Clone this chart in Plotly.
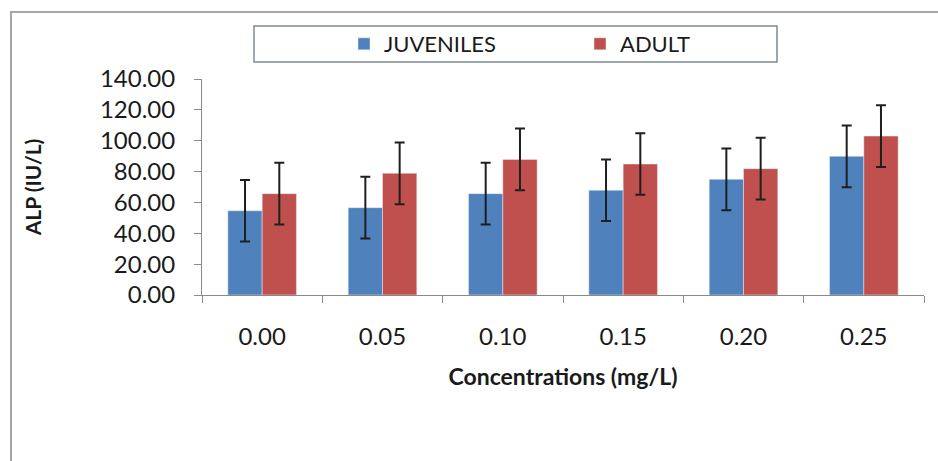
import plotly.graph_objects as go

categories = ["0.00", "0.05", "0.10", "0.15", "0.20", "0.25"]
juveniles = [54.6, 56.6, 65.7, 67.9, 75.0, 89.9]
adult = [65.7, 78.9, 87.9, 84.9, 81.9, 103.0]
juv_err = [20, 20, 20, 20, 20, 20]
adult_err = [20, 20, 20, 20, 20, 20]
y_ticks = [0, 20, 40, 60, 80, 100, 120, 140]
y_tick_labels = [f"{v:.2f}" for v in y_ticks]

W, H = 938, 461
L, R, T, B = 202, 14, 79, 166
pw, ph = W - L - R, H - T - B

def px(x):
    return (x - L) / pw

def py(y):
    return (H - B - y) / ph

FONT = "Lato"
err_style = dict(type="data", symmetric=True, color="#1f1f1f", thickness=2, width=5)

fig = go.Figure()
fig.add_trace(go.Bar(name="JUVENILES", x=categories, y=juveniles, marker_color="#4F81BD",
                     error_y=dict(array=juv_err, **err_style)))
fig.add_trace(go.Bar(name="ADULT", x=categories, y=adult, marker_color="#C0504D",
                     error_y=dict(array=adult_err, **err_style)))

fig.update_layout(
    width=W, height=H,
    margin=dict(l=L, r=R, t=T, b=B, pad=0),
    paper_bgcolor="white", plot_bgcolor="white",
    barmode="group", bargap=0.43, bargroupgap=0,
    font=dict(family=FONT, color="#1a1a1a"),
    showlegend=True,
    legend=dict(orientation="h", x=px(344), xanchor="left", y=py(44), yanchor="middle",
                entrywidth=191, entrywidthmode="pixels",
                font=dict(size=22, family=FONT, color="#1a1a1a"),
                bgcolor="rgba(0,0,0,0)", traceorder="normal"),
    xaxis=dict(showline=True, linecolor="#8a8a8a", linewidth=1, ticks="outside",
               ticklen=7, tickcolor="#8a8a8a", tickson="boundaries",
               ticklabelstandoff=20,
               tickfont=dict(size=24, family=FONT, color="#1a1a1a"),
               title=dict(text="<b>Concentrations (mg/L)</b>", font=dict(size=23, family=FONT), standoff=20),
               showgrid=False, zeroline=False),
    yaxis=dict(range=[0, 140], tickvals=y_ticks, ticktext=y_tick_labels,
               showline=True, linecolor="#8a8a8a", linewidth=1, ticks="outside",
               ticklen=7, tickcolor="#8a8a8a", ticklabelstandoff=14,
               tickfont=dict(size=24, family=FONT, color="#1a1a1a"),
               title=dict(text="<b>ALP (IU/L)</b>", font=dict(size=21, family=FONT), standoff=52),
               showgrid=False, zeroline=False),
    shapes=[
        dict(type="rect", xref="paper", yref="paper", x0=px(11), x1=px(960), y0=py(12), y1=py(480),
             line=dict(color="#a6a6a6", width=2), fillcolor="rgba(0,0,0,0)", layer="below"),
        dict(type="rect", xref="paper", yref="paper", x0=px(254), x1=px(777), y0=py(26), y1=py(62),
             line=dict(color="#7f8a96", width=1.5), fillcolor="rgba(0,0,0,0)", layer="below"),
    ],
)

fig.write_html("out.html", config={"displayModeBar": False},
               post_script="document.body.style.margin='0px';")
